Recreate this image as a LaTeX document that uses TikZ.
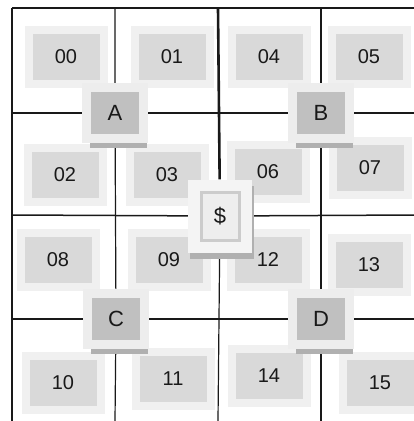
\documentclass[tikz,border=0pt]{standalone}
\usepackage{fontspec}
\setmainfont{Liberation Sans}
\usetikzlibrary{shadows,backgrounds}
\definecolor{CellGray}{RGB}{217,217,217}
\definecolor{CellFrame}{RGB}{240,240,240}
\definecolor{KeyGray}{RGB}{192,192,192}
\definecolor{KeyFrame}{RGB}{237,237,237}
\definecolor{ShadowGray}{RGB}{176,176,176}
\definecolor{DollarFrame}{RGB}{244,244,244}
\definecolor{DollarEdge}{RGB}{204,204,204}
\definecolor{DollarFill}{RGB}{238,238,238}
\definecolor{GridBlack}{RGB}{25,25,25}

\begin{document}
\begin{tikzpicture}[x=1pt,y=-1pt,
    cell/.style={fill=CellGray,draw=CellFrame,line width=8pt,minimum width=75pt,minimum height=54pt,
      inner sep=0pt,text=black!90,font=\fontsize{20}{23}\selectfont},
    key/.style={fill=KeyGray,draw=KeyFrame,line width=9pt,minimum width=57pt,minimum height=51pt,
      inner sep=0pt,text=black!90,font=\fontsize{22}{25}\selectfont,
      drop shadow={shadow xshift=3pt,shadow yshift=-9.5pt,fill=ShadowGray,opacity=1}},
    gridline/.style={GridBlack,line width=1.2pt}]
  \useasboundingbox (0,0) rectangle (414,421);
  % cells
  \foreach \t/\x/\y in {00/66/57,01/172/57,04/269/57,05/369/57,
                        02/65/175,03/167/175,06/268/172,07/370/168,
                        08/58/260,09/169/260,12/268/260,13/369/265,
                        10/63/383,11/173/379,14/269/376,15/380/383}
    \node[cell] (c\t) at (\x,\y) {\t};
  % keys
  \node[key] (A) at (115,113) {A};
  \node[key] (B) at (321,113) {B};
  \node[key] (C) at (116,319) {C};
  \node[key] (D) at (321,319) {D};
  \node[fill=DollarFrame,minimum width=64pt,minimum height=73pt,inner sep=0pt,
    drop shadow={shadow xshift=2pt,shadow yshift=-6pt,fill=ShadowGray,opacity=1}] (S) at (220,216) {};
  \node[fill=DollarFill,draw=DollarEdge,line width=3pt,minimum width=38pt,minimum height=48pt,
    inner sep=0pt,text=black!90,font=\fontsize{22}{25}\selectfont] (Sin) at (S) {\$};
  % grid
  \coordinate (TL) at (12,8);   \coordinate (TR) at (414,8);
  \coordinate (BL) at (12,421);
  \coordinate (T1) at (115,8);  \coordinate (B1) at (115,421);
  \coordinate (T2) at (218,8);  \coordinate (B2) at (218,421);
  \coordinate (T3) at (321,8);  \coordinate (B3) at (321,421);
  \coordinate (L1) at (12,113); \coordinate (R1) at (414,113);
  \coordinate (L2) at (12,215); \coordinate (R2) at (414,215);
  \coordinate (L3) at (12,319); \coordinate (R3) at (414,319);
  \begin{scope}[on background layer]
    \draw[gridline,line width=1.6pt] (TL) -- (TR);
    \draw[gridline] (TL) -- (BL);
    \draw[gridline] (T1) -- (A) (A) -- (C) (C) -- (B1);
    \draw[gridline] (T3) -- (B) (B) -- (D) (D) -- (B3);
    \draw[gridline,line width=2.6pt] (T2) -- (S);
    \draw[gridline] (S) -- (B2);
    \draw[gridline] (L1) -- (A) (A) -- (B) (B) -- (R1);
    \draw[gridline,line width=1.5pt] (L2) -- (S) (S) -- (R2);
    \draw[gridline] (L3) -- (C) (C) -- (D) (D) -- (R3);
  \end{scope}
\end{tikzpicture}
\end{document}
